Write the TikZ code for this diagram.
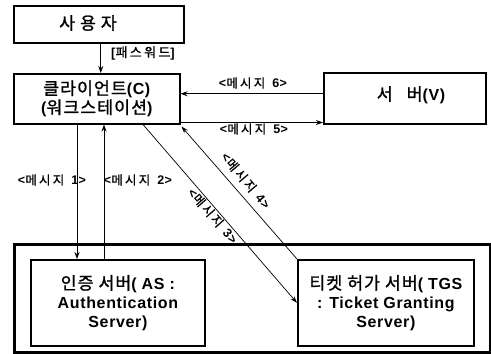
\documentclass[tikz,border=0pt]{standalone}
\usepackage{fontspec}
\setmainfont{Liberation Sans}[LetterSpace=4]
\newfontfamily\krfont{Noto Sans CJK KR}[LetterSpace=6,Scale=1.08,FakeBold=1.2]
\newfontfamily\krmsg{Noto Sans CJK KR}[LetterSpace=18,FakeBold=0.8]
\newcommand\K[1]{{\krfont\mdseries #1}}
\newcommand\M[1]{{\krmsg\mdseries #1}}
\usetikzlibrary{arrows.meta}
\begin{document}
\begin{tikzpicture}[x=1pt,y=-1pt,
  box/.style={draw, line width=1.5pt, anchor=north west, inner sep=0pt},
  big/.style={font=\fontsize{16}{19}\selectfont\bfseries, align=center, inner sep=0pt},
  msg/.style={font=\fontsize{12.5}{14}\selectfont\bfseries, inner sep=0pt},
  arr/.style={line width=0.9pt, -{Stealth[length=7pt,width=5pt]}},
  darr/.style={line width=0.7pt, -{Stealth[length=7pt,width=4.5pt]}}]
\useasboundingbox (0,0) rectangle (491,354);
% boxes
\node[box, minimum width=170pt, minimum height=37pt] (user) at (13,5) {};
\node[big] (usertext) at (88,23) {\K{사 용 자}};
\node[box, minimum width=166pt, minimum height=50pt, big] (client) at (13,73)
  {\K{클라이언트}(C)\\(\K{워크스테이션})};
\node[box, minimum width=162pt, minimum height=51pt] (server) at (323,72) {};
\node[big] (servertext) at (411,95) {\K{서}\hspace{14pt}\K{버}(V)};
\node[box, line width=3pt, minimum width=476pt, minimum height=108pt] (outer) at (13,243) {};
\node[box, line width=1.8pt, minimum width=174pt, minimum height=86pt, big] (as) at (30,259)
  {\K{인증 서버}( AS :\\Authentication\\Server)};
\node[box, line width=1.8pt, minimum width=176pt, minimum height=86pt, big] (tgs) at (297,259)
  {\K{티켓 허가 서버}( TGS\\: Ticket Granting\\Server)};
% connectors
\coordinate (x1) at (77,0);
\coordinate (x2) at (104,0);
\coordinate (x3) at (143,0);
\draw[arr] ([xshift=2pt]user.south) -- ([xshift=2pt]user.south |- client.north);
\draw[arr] ([yshift=4.5pt]server.west) -- ([yshift=4.5pt]server.west -| client.east);
\draw[arr] ([yshift=2pt]server.south west -| client.east) -- ([yshift=2pt]server.south west);
\draw[arr] (x1 |- client.south) -- (x1 |- as.north);
\draw[arr] (x2 |- as.north) -- (x2 |- client.south);
\draw[darr] (x3 |- client.south) -- (tgs.west);
\draw[darr] (tgs.north west) -- ([xshift=1pt,yshift=-2pt]client.south east);
% labels
\node[msg, font=\fontsize{13}{14}\selectfont\bfseries] (lpw) at (143,53) {[\M{패스워드}]};
\node[msg] (l6) at (253,83) {<\M{메시지}\hspace{7pt}6>};
\node[msg] (l5) at (254,129) {<\M{메시지}\hspace{7pt}5>};
\node[msg] (l1) at (52,180) {<\M{메시지}\hspace{7pt}1>};
\node[msg] (l2) at (138,180) {<\M{메시지}\hspace{7pt}2>};
\node[msg, rotate=-49] (l3) at (213,216) {<\M{메시지}\hspace{7pt}3>};
\node[msg, rotate=-50] (l4) at (246,181) {<\M{메시지}\hspace{7pt}4>};
\end{tikzpicture}
\end{document}
